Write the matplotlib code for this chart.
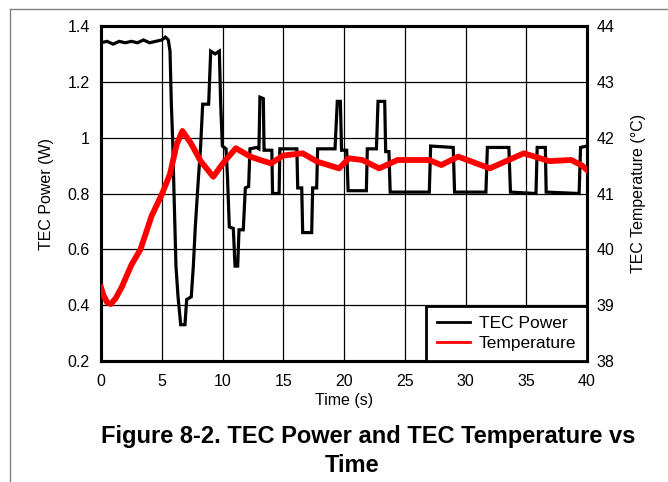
import matplotlib
matplotlib.use("Agg")
import matplotlib.pyplot as plt
from matplotlib.lines import Line2D

plt.rcParams['font.family'] = ['Liberation Sans', 'DejaVu Sans']

# ---- data ----
power_t = [0, 0.5, 1, 1.5, 2, 2.5, 3, 3.5, 4, 4.5, 5, 5.3, 5.54, 5.68, 5.79, 5.90,
           6.01, 6.17, 6.34, 6.56, 6.91, 7.05, 7.43, 7.60, 7.76, 8.01, 8.20, 8.37,
           8.86, 9.03, 9.39, 9.74, 9.85, 9.99, 10.29, 10.40, 10.56, 10.89, 11.03,
           11.25, 11.36, 11.71, 11.88, 12.15, 12.26, 12.81, 13.0, 13.08, 13.36,
           13.42, 13.47, 14.06, 14.12, 14.66, 14.72, 16.12, 16.19, 16.52, 16.60,
           17.34, 17.42, 17.75, 17.83, 19.26, 19.45, 19.70, 19.80, 20.22, 20.34,
           21.84, 21.92, 22.67, 22.80, 23.35, 23.43, 23.70, 23.80, 27.02, 27.13,
           28.99, 29.10, 31.68, 31.80, 33.57, 33.70, 35.80, 35.90, 36.57, 36.64,
           39.35, 39.47, 40.0]
power_w = [1.34, 1.345, 1.335, 1.345, 1.34, 1.345, 1.34, 1.35, 1.34, 1.345, 1.35,
           1.36, 1.35, 1.31, 1.12, 0.99, 0.80, 0.54, 0.43, 0.33, 0.33, 0.42, 0.43,
           0.54, 0.68, 0.85, 0.97, 1.12, 1.12, 1.31, 1.30, 1.31, 1.12, 0.97, 0.96,
           0.87, 0.68, 0.675, 0.54, 0.54, 0.67, 0.67, 0.82, 0.825, 0.96, 0.965,
           0.96, 1.145, 1.14, 0.955, 0.955, 0.955, 0.80, 0.80, 0.96, 0.96, 0.82,
           0.82, 0.66, 0.66, 0.82, 0.82, 0.96, 0.96, 1.13, 1.13, 0.955, 0.955,
           0.81, 0.81, 0.96, 0.96, 1.13, 1.13, 0.95, 0.95, 0.805, 0.805, 0.97,
           0.965, 0.805, 0.805, 0.965, 0.965, 0.805, 0.80, 0.965, 0.965, 0.805,
           0.80, 0.965, 0.97]

temp_t = [0, 0.2, 0.5, 0.8, 1.2, 1.7, 2.5, 3.25, 4.17, 5.0, 5.68, 6.23, 6.7, 7.4,
          8.2, 9.24, 10.07, 11.1, 12.3, 13.1, 14.0, 15.0, 16.6, 17.8, 19.6, 20.4,
          21.5, 22.9, 24.4, 27.0, 28.0, 29.4, 32.0, 34.8, 36.9, 38.7, 39.6, 40.0]
temp_c = [39.32, 39.18, 39.05, 39.02, 39.12, 39.32, 39.72, 40.0, 40.6, 40.98,
          41.35, 41.88, 42.12, 41.9, 41.58, 41.3, 41.55, 41.81, 41.66, 41.6,
          41.54, 41.68, 41.72, 41.57, 41.45, 41.63, 41.6, 41.45, 41.6, 41.6,
          41.51, 41.66, 41.45, 41.72, 41.58, 41.6, 41.5, 41.42]

x_ticks = [0, 5, 10, 15, 20, 25, 30, 35, 40]
p_ticks = [0.2, 0.4, 0.6, 0.8, 1.0, 1.2, 1.4]
p_tick_labels = ["0.2", "0.4", "0.6", "0.8", "1", "1.2", "1.4"]
t_ticks = [38, 39, 40, 41, 42, 43, 44]

W, H = 668, 482
fig = plt.figure(figsize=(W / 100, H / 100), dpi=100)
L, R, T, B = 101, 587, 26, 361
ax = fig.add_axes([L / W, 1 - B / H, (R - L) / W, (B - T) / H])
ax2 = ax.twinx()

fs = 11.5
ax.plot(power_t, power_w, color='black', lw=2.3, zorder=3, solid_joinstyle='miter')
ax2.plot(temp_t, temp_c, color='#ff0000', lw=4.2, zorder=3)

ax.set_xlim(0, 40)
ax.set_ylim(0.2, 1.4)
ax2.set_ylim(38, 44)
ax.set_xticks(x_ticks)
ax.set_xticklabels([str(v) for v in x_ticks])
ax.set_yticks(p_ticks)
ax.set_yticklabels(p_tick_labels)
ax2.set_yticks(t_ticks)
ax2.set_yticklabels([str(v) for v in t_ticks])

ax.grid(True, color='black', lw=0.9)
ax.set_axisbelow(True)
ax.tick_params(axis='both', length=0, labelsize=fs)
ax.tick_params(axis='x', pad=9)
ax.tick_params(axis='y', pad=8)
ax2.tick_params(axis='y', length=0, labelsize=fs, pad=7)
for a in (ax, ax2):
    for s in a.spines.values():
        s.set_linewidth(2.2)
        s.set_color('black')

ax.set_xlabel("Time (s)", fontsize=fs, labelpad=3)
ax.set_ylabel("TEC Power (W)", fontsize=fs, labelpad=10)
ax2.set_ylabel("TEC Temperature (°C)", fontsize=fs, labelpad=12)

lfs = 12.5
handles = [Line2D([], [], color='black', lw=2.0), Line2D([], [], color='#ff0000', lw=2.0)]
leg = ax2.legend(handles, ["TEC Power", "Temperature"], loc='lower right',
                 fontsize=lfs, frameon=True, fancybox=False, borderaxespad=0,
                 handlelength=1.95, handletextpad=0.5, borderpad=0.6,
                 labelspacing=0.25)
leg.get_frame().set_edgecolor('black')
leg.get_frame().set_linewidth(2.0)
leg.get_frame().set_alpha(1)

fig.text(368 / W, 1 - 436 / H, "Figure 8-2. TEC Power and TEC Temperature vs",
         fontsize=17, fontweight='bold', ha='center', va='center')
fig.text(352 / W, 1 - 465 / H, "Time", fontsize=17, fontweight='bold',
         ha='center', va='center')

# page border
fig.add_artist(Line2D([10 / W, 10 / W], [0, 1 - 9 / H], transform=fig.transFigure,
                      color='#808080', lw=1))
fig.add_artist(Line2D([10 / W, 1], [1 - 9 / H, 1 - 9 / H], transform=fig.transFigure,
                      color='#808080', lw=1))

fig.savefig("out.png", dpi=100)
